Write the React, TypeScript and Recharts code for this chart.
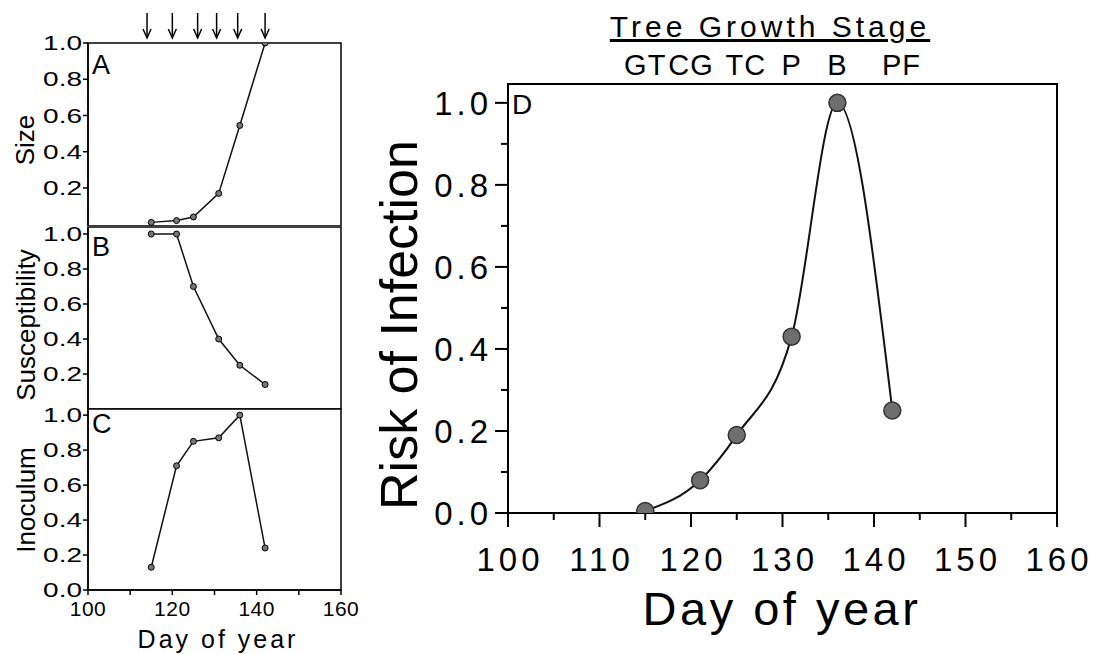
import React from 'react';
import { LineChart, Line, XAxis, YAxis, ReferenceArea } from 'recharts';

const FONT = "'Liberation Sans', Arial, Helvetica, sans-serif";

// sampling days shared by all panels
const days = [115, 121, 125, 131, 136, 142];
const sizeValues = [0.01, 0.02, 0.04, 0.17, 0.545, 1.0];
const susceptibilityValues = [1.0, 1.0, 0.7, 0.4, 0.25, 0.14];
const inoculumValues = [0.13, 0.71, 0.85, 0.87, 1.0, 0.24];
const riskValues = [0.005, 0.08, 0.19, 0.43, 1.0, 0.25];

const arrowDays = [114, 120, 126, 130.5, 135.5, 142];
const stageDays = [115, 120, 126, 131, 136, 143];
const stageLabels = ['GT', 'CG', 'TC', 'P', 'B', 'PF'];

const smallYTicks = [0.2, 0.4, 0.6, 0.8, 1.0];
const smallYTicksC = [0, 0.2, 0.4, 0.6, 0.8, 1.0];
const smallXTicks = [100, 110, 120, 130, 140, 150, 160];
const riskYTicks = [0, 0.1, 0.2, 0.3, 0.4, 0.5, 0.6, 0.7, 0.8, 0.9, 1.0];
const riskXTicks = [100, 105, 110, 115, 120, 125, 130, 135, 140, 145, 150, 155, 160];

const rows = days.map((day, i) => ({
  day,
  size: sizeValues[i],
  susceptibility: susceptibilityValues[i],
  inoculum: inoculumValues[i],
  risk: riskValues[i],
}));

const ArrowTick = (props: any) => {
  const { x, y } = props;
  return (
    <g>
      <line x1={x} y1={y - 30} x2={x} y2={y - 5} stroke="#000" strokeWidth={1.5} />
      <path d={`M${x - 4},${y - 14} L${x},${y - 5} L${x + 4},${y - 14}`} fill="none" stroke="#000" strokeWidth={1.5} />
    </g>
  );
};

// the scan is a bit wide, so the small labels get stretched sideways
const SmallYTick = (props: any) => {
  const { x, y, payload } = props;
  return (
    <text
      transform={`translate(${x - 1},${y}) scale(1.4,1)`}
      dy="0.36em"
      textAnchor="end"
      fontSize={20}
      fontFamily={FONT}
      fill="#000"
    >
      {payload.value.toFixed(1)}
    </text>
  );
};

const StageTick = (props: any) => {
  const { x, y, index } = props;
  return (
    <text x={x} y={y - 9} textAnchor="middle" fontSize={29} fontFamily={FONT} fill="#000" style={{ letterSpacing: 1 }}>
      {stageLabels[index]}
    </text>
  );
};

const RiskYTick = (props: any) => {
  const { x, y, payload } = props;
  const major = Math.round(payload.value * 10) % 2 === 0;
  return (
    <g>
      <line x1={x - (major ? 13 : 7)} y1={y} x2={x} y2={y} stroke="#000" strokeWidth={2} />
      {major && (
        <text x={x - 16} y={y} dy="0.36em" textAnchor="end" fontSize={33} fontFamily={FONT} fill="#000" style={{ letterSpacing: 4 }}>
          {payload.value.toFixed(1)}
        </text>
      )}
    </g>
  );
};

const RiskXTick = (props: any) => {
  const { x, y, payload } = props;
  const major = payload.value % 10 === 0;
  return (
    <g>
      <line x1={x} y1={y} x2={x} y2={y + (major ? 14 : 7)} stroke="#000" strokeWidth={2} />
      {major && (
        <text x={x + 2} y={y + 58} textAnchor="middle" fontSize={33} fontFamily={FONT} fill="#000" style={{ letterSpacing: 4 }}>
          {payload.value}
        </text>
      )}
    </g>
  );
};

type PanelProps = {
  top: number;
  height: number;
  marginTop: number;
  dataKey: string;
  domain: [number, number];
  yTicks: number[];
  showX?: boolean;
  arrows?: boolean;
};

const SmallPanel = ({ top, height, marginTop, dataKey, domain, yTicks, showX, arrows }: PanelProps) => (
  <div style={{ position: 'absolute', left: 0, top }}>
    <LineChart width={360} height={height} data={rows} margin={{ top: marginTop, right: 19, left: 0, bottom: 0 }}>
      {arrows && (
        <XAxis
          xAxisId="top"
          dataKey="day"
          orientation="top"
          type="number"
          domain={[100, 160]}
          allowDataOverflow
          ticks={arrowDays}
          height={43}
          axisLine={false}
          tickLine={false}
          tickSize={0}
          tickMargin={0}
          interval={0}
          tick={ArrowTick}
        />
      )}
      <XAxis
        xAxisId="b"
        dataKey="day"
        type="number"
        domain={[100, 160]}
        allowDataOverflow
        ticks={smallXTicks}
        interval={0}
        hide={!showX}
        height={64}
        axisLine={{ stroke: '#000', strokeWidth: 1.5 }}
        tickLine={{ stroke: '#000', strokeWidth: 1.5 }}
        tickSize={5}
        tickMargin={6}
        tick={{ fontSize: 21, fill: '#000', fontFamily: FONT, style: { letterSpacing: 0.5 } }}
        tickFormatter={(v: number) => (v % 20 === 0 ? String(v) : '')}
      />
      <YAxis
        domain={domain}
        ticks={yTicks}
        interval={0}
        allowDataOverflow
        width={88}
        axisLine={{ stroke: '#000', strokeWidth: 1.5 }}
        tickLine={{ stroke: '#000', strokeWidth: 1.5 }}
        tickSize={5}
        tickMargin={0}
        tick={SmallYTick}
      />
      <ReferenceArea
        xAxisId="b"
        x1={100}
        x2={160}
        y1={domain[0]}
        y2={domain[1]}
        fill="none"
        fillOpacity={0}
        stroke="#000"
        strokeWidth={1.5}
        ifOverflow="visible"
      />
      {arrows && (
        <Line
          xAxisId="top"
          dataKey={dataKey}
          stroke="none"
          dot={false}
          activeDot={false}
          legendType="none"
          isAnimationActive={false}
        />
      )}
      <Line
        xAxisId="b"
        type="linear"
        dataKey={dataKey}
        stroke="#111"
        strokeWidth={1.5}
        dot={{ r: 3, fill: '#777', stroke: '#000', strokeWidth: 1 }}
        isAnimationActive={false}
      />
    </LineChart>
  </div>
);

const textBase: React.CSSProperties = {
  position: 'absolute',
  fontFamily: FONT,
  color: '#000',
  lineHeight: 1,
  whiteSpace: 'nowrap',
};

// rotated title, placed by its baseline x and its centre y
const Vertical = ({ text, baselineX, cy, size }: { text: string; baselineX: number; cy: number; size: number }) => (
  <div
    style={{
      ...textBase,
      left: baselineX - 0.347 * size,
      top: cy,
      fontSize: size,
      transform: 'translate(-50%, -50%) rotate(-90deg)',
    }}
  >
    {text}
  </div>
);

const Centered = ({ text, cx, baseline, size, spacing = 0 }: { text: string; cx: number; baseline: number; size: number; spacing?: number }) => (
  <div
    style={{
      ...textBase,
      left: cx,
      top: baseline - 0.847 * size,
      fontSize: size,
      letterSpacing: spacing,
      transform: 'translateX(-50%)',
    }}
  >
    {text}
  </div>
);

const Letter = ({ text, x, baseline, size }: { text: string; x: number; baseline: number; size: number }) => (
  <div style={{ ...textBase, left: x, top: baseline - 0.847 * size, fontSize: size }}>{text}</div>
);

export default function App() {
  return (
    <div style={{ position: 'absolute', left: 0, top: 0, width: 1101, height: 654, background: '#fff', overflow: 'hidden' }}>
      <SmallPanel top={0} height={226} marginTop={0} dataKey="size" domain={[-0.01, 1]} yTicks={smallYTicks} arrows />
      <SmallPanel top={206} height={203} marginTop={21} dataKey="susceptibility" domain={[0, 1.04]} yTicks={smallYTicks} />
      <SmallPanel top={388} height={266} marginTop={21} dataKey="inoculum" domain={[0, 1.035]} yTicks={smallYTicksC} showX />

      <div style={{ position: 'absolute', left: 370, top: 0 }}>
        <LineChart width={731} height={654} data={rows} margin={{ top: 54, right: 44, left: 0, bottom: 0 }}>
          <XAxis
            xAxisId="stage"
            dataKey="day"
            orientation="top"
            type="number"
            domain={[100, 160]}
            allowDataOverflow
            ticks={stageDays}
            height={30}
            axisLine={false}
            tickLine={false}
            tickSize={0}
            tickMargin={0}
            interval={0}
            tick={StageTick}
          />
          <XAxis
            xAxisId="b"
            dataKey="day"
            type="number"
            domain={[100, 160]}
            allowDataOverflow
            ticks={riskXTicks}
            interval={0}
            height={141}
            axisLine={{ stroke: '#000', strokeWidth: 2 }}
            tickLine={false}
            tickSize={0}
            tickMargin={0}
            tick={RiskXTick}
          />
          <YAxis
            domain={[0, 1.046]}
            ticks={riskYTicks}
            interval={0}
            allowDataOverflow
            width={138}
            axisLine={{ stroke: '#000', strokeWidth: 2 }}
            tickLine={false}
            tickSize={0}
            tickMargin={0}
            tick={RiskYTick}
          />
          <ReferenceArea
            xAxisId="b"
            x1={100}
            x2={160}
            y1={0}
            y2={1.046}
            fill="none"
            fillOpacity={0}
            stroke="#000"
            strokeWidth={2}
            ifOverflow="visible"
          />
          <Line
            xAxisId="stage"
            dataKey="risk"
            stroke="none"
            dot={false}
            activeDot={false}
            legendType="none"
            isAnimationActive={false}
          />
          <Line
            xAxisId="b"
            type="monotone"
            dataKey="risk"
            stroke="#111"
            strokeWidth={2}
            dot={{ r: 8.5, fill: '#6e6e6e', stroke: '#333', strokeWidth: 1.5 }}
            isAnimationActive={false}
          />
        </LineChart>
      </div>

      {/* panel letters */}
      <Letter text="A" x={92} baseline={75} size={27} />
      <Letter text="B" x={92} baseline={257} size={27} />
      <Letter text="C" x={92} baseline={434} size={27} />
      <Letter text="D" x={512} baseline={115} size={28} />

      {/* axis titles */}
      <Vertical text="Size" baselineX={34} cy={140} size={26} />
      <Vertical text="Susceptibility" baselineX={35} cy={325} size={26} />
      <Vertical text="Inoculum" baselineX={35} cy={500} size={26} />
      <Centered text="Day of year" cx={218} baseline={648} size={25} spacing={3} />
      <Vertical text="Risk of Infection" baselineX={417} cy={325} size={52} />
      <Centered text="Day of year" cx={782} baseline={625} size={47} spacing={3.5} />

      <div
        style={{
          ...textBase,
          left: 770,
          top: 37 - 0.847 * 30,
          fontSize: 30,
          textDecoration: 'underline',
          letterSpacing: 4,
          transform: 'translateX(-50%)',
        }}
      >
        Tree Growth Stage
      </div>
    </div>
  );
}
